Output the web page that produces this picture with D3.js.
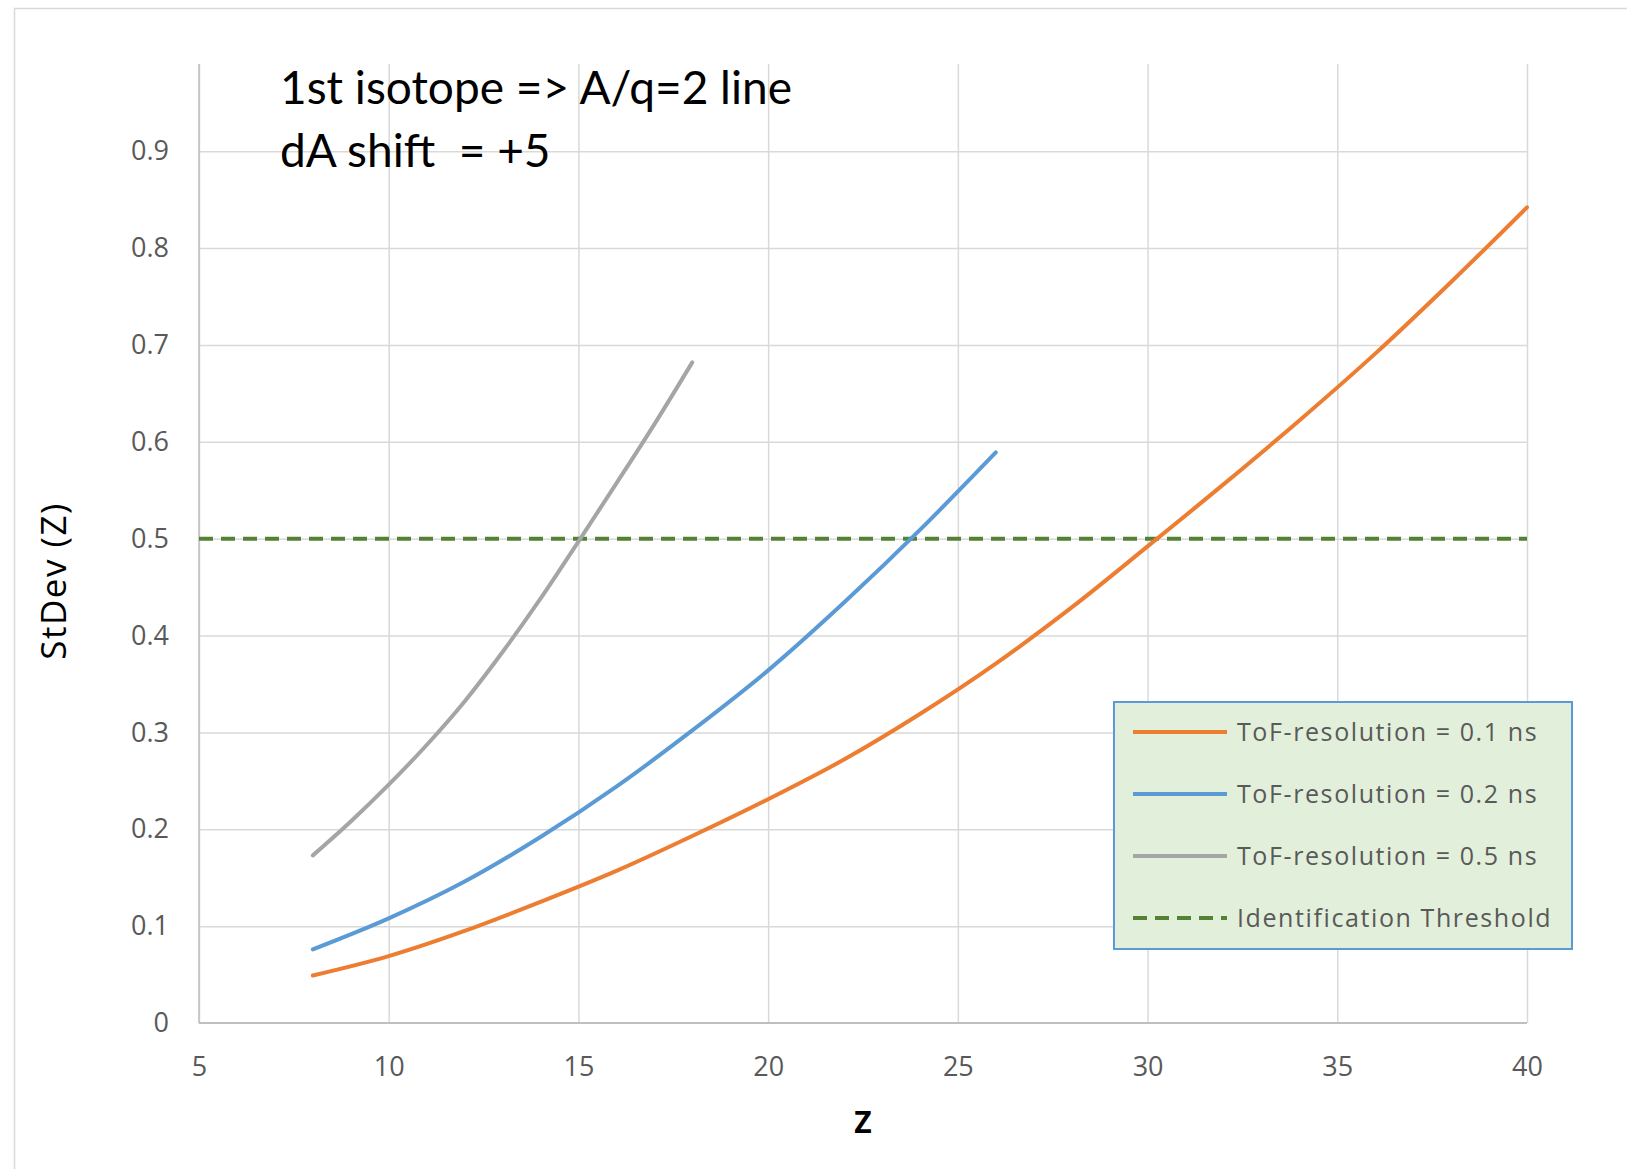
<!DOCTYPE html>
<html>
<head>
<meta charset="utf-8">
<script src="https://cdn.jsdelivr.net/npm/d3@7"></script>
<style>
  body { margin: 0; background: #fff; }
  svg { display: block; }
</style>
</head>
<body>
<div class="chart"></div>
<script>
// values
var zTicks = [5, 10, 15, 20, 25, 30, 35, 40];
var yTicks = [0, 0.1, 0.2, 0.3, 0.4, 0.5, 0.6, 0.7, 0.8, 0.9];

var zOrange = [8, 10, 12, 14, 16, 18, 20, 22, 24, 26, 28, 30, 32, 34, 36, 38, 40];
var sdOrange = [0.049, 0.069, 0.095, 0.125, 0.157, 0.193, 0.231, 0.272, 0.319, 0.371, 0.429, 0.492, 0.556, 0.622, 0.691, 0.765, 0.842];

var zBlue = [8, 10, 12, 14, 16, 18, 20, 22, 24, 26];
var sdBlue = [0.076, 0.108, 0.146, 0.192, 0.244, 0.302, 0.364, 0.434, 0.509, 0.589];

var zGray = [8, 9, 10, 11, 12, 13, 14, 15, 16, 17, 18];
var sdGray = [0.173, 0.208, 0.246, 0.287, 0.332, 0.383, 0.438, 0.497, 0.557, 0.618, 0.682];

var threshold = 0.5;
var zRange = [5, 40];

var seriesNames = ['ToF-resolution = 0.1 ns', 'ToF-resolution = 0.2 ns', 'ToF-resolution = 0.5 ns', 'Identification Threshold'];
var titleLines = ['1st isotope => A/q=2 line', 'dA shift  = +5'];

var width = 1627, height = 1169;

var svg = d3.select('.chart').append('svg')
  .attr('width', width)
  .attr('height', height);

// chart area frame (right and bottom edges fall outside the picture)
svg.append('rect')
  .attr('x', 14.5).attr('y', 8.5)
  .attr('width', width + 20).attr('height', height + 20)
  .attr('fill', '#fff')
  .attr('stroke', '#d9d9d9')
  .attr('stroke-width', 1.5);

var x = d3.scaleLinear().domain(zRange).range([199, 1527]);
var y = d3.scaleLinear().domain([0, 0.99]).range([1023, 64]);

var tickFont = '"Open Sans", "Noto Sans", sans-serif';

// gridlines
svg.append('g')
  .attr('transform', 'translate(0,' + y(0) + ')')
  .call(d3.axisBottom(x).tickValues(zTicks).tickSize(-(y(0) - y(0.99))).tickFormat(''))
  .call(function(g) {
    g.select('.domain').remove();
    g.selectAll('line').attr('stroke', '#d9d9d9').attr('stroke-width', 1.5);
  });

svg.append('g')
  .attr('transform', 'translate(' + x(5) + ',0)')
  .call(d3.axisLeft(y).tickValues(yTicks.slice(1)).tickSize(-(x(40) - x(5))).tickFormat(''))
  .call(function(g) {
    g.select('.domain').remove();
    g.selectAll('line').attr('stroke', '#d9d9d9').attr('stroke-width', 1.5);
  });

// axis lines
svg.append('line')
  .attr('x1', x(5)).attr('x2', x(40))
  .attr('y1', y(0)).attr('y2', y(0))
  .attr('stroke', '#bfbfbf').attr('stroke-width', 2);
svg.append('line')
  .attr('x1', x(5)).attr('x2', x(5))
  .attr('y1', y(0)).attr('y2', y(0.99))
  .attr('stroke', '#bfbfbf').attr('stroke-width', 1.5);

// tick labels
svg.append('g')
  .attr('transform', 'translate(0,' + y(0) + ')')
  .call(d3.axisBottom(x).tickValues(zTicks).tickSize(0).tickPadding(0))
  .call(function(g) {
    g.select('.domain').remove();
    g.selectAll('text')
      .attr('y', 53).attr('dy', 0)
      .attr('fill', '#595959')
      .style('font-family', tickFont)
      .style('font-size', '27px');
  });

svg.append('g')
  .attr('transform', 'translate(' + x(5) + ',0)')
  .call(d3.axisLeft(y).tickValues(yTicks).tickSize(0).tickPadding(30)
    .tickFormat(function(d) { return d === 0 ? '0' : d3.format('.1f')(d); }))
  .call(function(g) {
    g.select('.domain').remove();
    g.selectAll('text')
      .attr('fill', '#595959')
      .style('font-family', tickFont)
      .style('font-size', '27px');
  });

// axis titles
svg.append('text')
  .attr('x', 863).attr('y', 1133)
  .attr('text-anchor', 'middle')
  .attr('fill', '#000')
  .style('font-family', tickFont)
  .style('font-weight', 'bold')
  .style('font-size', '30px')
  .text('Z');

svg.append('text')
  .attr('transform', 'translate(66,581) rotate(-90)')
  .attr('text-anchor', 'middle')
  .attr('fill', '#000')
  .style('font-family', tickFont)
  .style('font-size', '35px')
  .style('letter-spacing', '1.5px')
  .text('StDev (Z)');

// threshold
svg.append('line')
  .attr('x1', x(zRange[0])).attr('x2', x(zRange[1]))
  .attr('y1', y(threshold)).attr('y2', y(threshold))
  .attr('stroke', '#548235')
  .attr('stroke-width', 4)
  .attr('stroke-dasharray', '14,8');

// curves
var line = d3.line()
  .x(function(d) { return x(d[0]); })
  .y(function(d) { return y(d[1]); })
  .curve(d3.curveMonotoneX);

var series = [
  {z: zOrange, v: sdOrange, color: '#ed7d31'},
  {z: zBlue, v: sdBlue, color: '#5b9bd5'},
  {z: zGray, v: sdGray, color: '#a5a5a5'}
];

series.forEach(function(s) {
  var pts = s.z.map(function(z, i) { return [z, s.v[i]]; });
  svg.append('path')
    .datum(pts)
    .attr('d', line)
    .attr('fill', 'none')
    .attr('stroke', s.color)
    .attr('stroke-width', 4)
    .attr('stroke-linecap', 'round');
});

// title text box
var title = svg.append('text')
  .attr('x', 280)
  .attr('fill', '#000')
  .style('font-family', 'Lato, "Open Sans", sans-serif')
  .style('font-size', '46px')
  .style('white-space', 'pre');
titleLines.forEach(function(t, i) {
  title.append('tspan').attr('x', 280).attr('y', 104 + i * 63).text(t);
});

// legend
var legend = svg.append('g').attr('transform', 'translate(1114,702)');
legend.append('rect')
  .attr('width', 458).attr('height', 247)
  .attr('fill', '#e2efda')
  .attr('stroke', '#5b9bd5')
  .attr('stroke-width', 2);

var legendColors = ['#ed7d31', '#5b9bd5', '#a5a5a5', '#548235'];
seriesNames.forEach(function(name, i) {
  var ly = 30 + i * 62;
  legend.append('line')
    .attr('x1', 19).attr('x2', 113)
    .attr('y1', ly).attr('y2', ly)
    .attr('stroke', legendColors[i])
    .attr('stroke-width', 4)
    .attr('stroke-dasharray', i === 3 ? '14,8' : null);
  legend.append('text')
    .attr('x', 123).attr('y', ly)
    .attr('dy', '0.35em')
    .attr('fill', '#595959')
    .style('font-family', tickFont)
    .style('font-size', '25px')
    .style('letter-spacing', '1.6px')
    .text(name);
});
</script>
</body>
</html>
